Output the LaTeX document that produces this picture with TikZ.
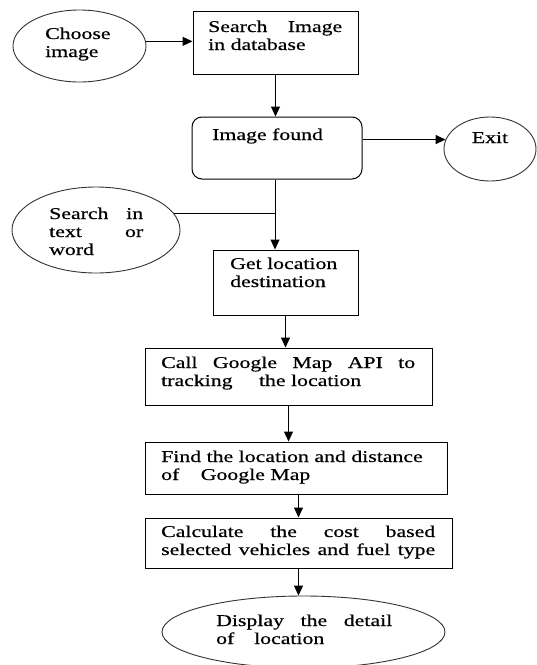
\documentclass[tikz,border=0pt]{standalone}
\usepackage{fontspec}
\setmainfont[FakeStretch=1.32,FakeBold=0.6]{Liberation Serif}
\usetikzlibrary{arrows.meta,shapes.geometric}
\begin{document}
\begin{tikzpicture}[x=1pt,y=-1pt,
  box/.style={draw,line width=1pt,inner sep=0pt,rectangle},
  ell/.style={draw=black!80,line width=0.9pt,ellipse,inner sep=0pt},
  txt/.style={anchor=base west,inner sep=0pt,align=left,font=\fontsize{16.5}{18}\selectfont},
  arr/.style={line width=1pt,-{Triangle[length=10pt,width=9pt]}},
  ln/.style={line width=1pt}]
\fill[white] (0,0) rectangle (537,665);
\useasboundingbox (0,0) rectangle (537,665);
% shapes
\node[ell,minimum width=133pt,minimum height=72pt] (choose) at (79.5,46) {};
\node[box,minimum width=165pt,minimum height=63pt] (search) at (275.5,42.5) {};
\node[box,rounded corners=10pt,minimum width=170pt,minimum height=62pt] (found) at (277,148) {};
\node[ell,minimum width=92pt,minimum height=64pt] (exit) at (490,149) {};
\node[ell,minimum width=168pt,minimum height=86pt] (st) at (96,230) {};
\node[box,minimum width=145pt,minimum height=65pt] (getloc) at (285.5,282.5) {};
\node[box,minimum width=287pt,minimum height=57pt] (call) at (288.5,376.5) {};
\node[box,minimum width=302pt,minimum height=52pt] (find) at (296,468) {};
\node[box,minimum width=307pt,minimum height=50pt] (calc) at (298.5,543) {};
\node[ell,minimum width=283pt,minimum height=72pt] (display) at (303.5,632) {};
% texts
\node[txt,text width=75pt] (tchoose) at (45,39) {Choose\\image};
\node[txt,text width=134pt] (tsearch) at (208,32) {Search\hfill Image\\in database};
\node[txt,text width=140pt] (tfound) at (212,140) {Image found};
\node[txt,anchor=base] (texit) at (490,143) {Exit};
\node[txt,text width=94pt] (tst) at (49,219) {Search\hfill in\\text\hfill or\\word};
\node[txt,text width=125pt] (tgetloc) at (230,269) {Get location\\destination};
\node[txt,text width=254pt] (tcall) at (161,368) {Call\hfill Google\hfill Map\hfill API\hfill to\\tracking\hspace{1.6em}the location};
\node[txt,text width=282pt] (tfind) at (161,462) {\mbox{Find the location and distance}\\of\hspace{1.3em}Google Map};
\node[txt,text width=274pt] (tcalc) at (161,537) {Calculate\hfill the\hfill cost\hfill based\\selected\hfill vehicles\hfill and\hfill fuel\hfill type};
\node[txt,text width=176pt] (tdisplay) at (216,626) {Display\hfill the\hfill detail\\of\hspace{1.2em}location};
% connectors
\coordinate (j) at (275,213);
\draw[arr] (choose.4) -- (choose.4 -| search.west);
\draw[arr] (search.south) -- (search.south |- found.north);
\draw[arr] (exit.168 -| found.east) -- (exit.168);
\draw[ln] (found.south -| j) -- (j);
\draw[arr] (j) -- (j |- getloc.north);
\draw[ln] (st.12) -- (st.12 -| j);
\draw[arr] (getloc.south) -- (getloc.south |- call.north);
\draw[arr] (call.south) -- (call.south |- find.north);
\draw[arr] (calc.north |- find.south) -- (calc.north);
\draw[arr] (calc.south) -- (calc.south |- display.north);
\end{tikzpicture}
\end{document}
